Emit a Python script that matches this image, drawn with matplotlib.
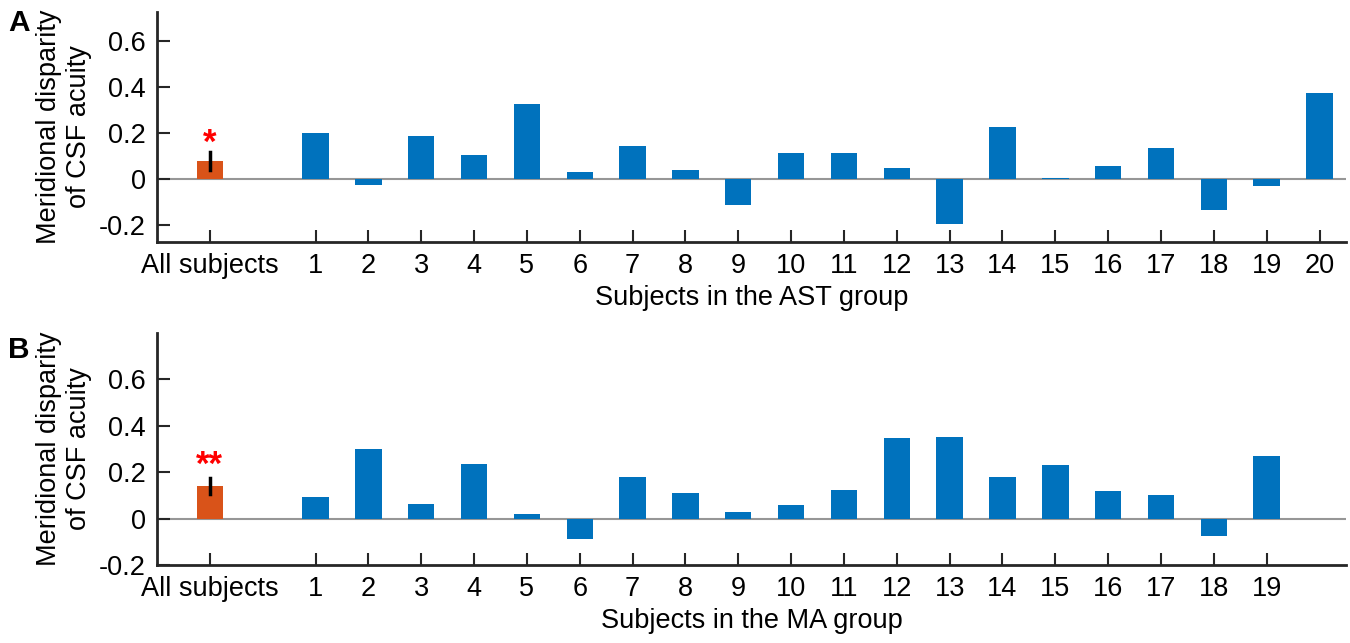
import numpy as np
import matplotlib
matplotlib.use("Agg")
import matplotlib.pyplot as plt

plt.rcParams['font.family'] = ['Liberation Sans', 'DejaVu Sans']

# panel A: AST group
ast_all = 0.078
ast_all_err = 0.038
ast_star_y = 0.170
ast_vals = [0.198, -0.025, 0.187, 0.104, 0.326, 0.030, 0.142, 0.037, -0.114, 0.110,
            0.110, 0.046, -0.198, 0.225, 0.003, 0.056, 0.133, -0.135, -0.032, 0.374]

# panel B: MA group
ma_all = 0.141
ma_all_err = 0.033
ma_star_y = 0.246
ma_vals = [0.094, 0.298, 0.062, 0.235, 0.019, -0.089, 0.180, 0.109, 0.030, 0.059,
           0.125, 0.347, 0.351, 0.178, 0.230, 0.118, 0.102, -0.075, 0.270]

blue = '#0072BD'
orange = '#D95319'
fs = 19.5

fig = plt.figure(figsize=(13.5, 6.43), dpi=100)
axA = fig.add_axes([0.1163, 0.6236, 0.8807, 0.3577])
axB = fig.add_axes([0.1163, 0.1213, 0.8807, 0.3608])

def draw(ax, all_val, all_err, star_y, vals, stars, xlabel, ylim, yticks):
    n = len(vals)
    xs = np.arange(1, n + 1)
    ax.axhline(0, color='#969696', lw=1.5, zorder=1)
    ax.bar(xs, vals, width=0.5, color=blue, zorder=2)
    ax.bar([-1], [all_val], width=0.5, color=orange, zorder=2)
    ax.plot([-1, -1], [all_val - all_err, all_val + all_err], color='black', lw=2.5, zorder=3)
    ax.text(-1, star_y, stars, color='red', ha='center', va='center_baseline',
            fontsize=25, fontweight='bold')
    ax.set_xlim(-2, 20.5)
    ax.set_ylim(*ylim)
    ax.set_yticks(yticks)
    ax.set_yticklabels(['%g' % t for t in yticks])
    ax.set_xticks([-1] + list(xs))
    ax.set_xticklabels(['All subjects'] + [str(i) for i in xs])
    for s in ['top', 'right']:
        ax.spines[s].set_visible(False)
    for s in ['left', 'bottom']:
        ax.spines[s].set_color('#262626')
        ax.spines[s].set_linewidth(2)
    ax.tick_params(direction='in', length=9, width=1.5, color='#262626',
                   labelsize=fs, pad=8)
    ax.set_xlabel(xlabel, fontsize=fs, labelpad=4)
    ax.set_ylabel('Meridional disparity\nof CSF acuity', fontsize=fs, labelpad=5,
                  linespacing=1.2)

draw(axA, ast_all, ast_all_err, ast_star_y, ast_vals, '*', 'Subjects in the AST group',
     (-0.275, 0.725), [-0.2, 0, 0.2, 0.4, 0.6])
draw(axB, ma_all, ma_all_err, ma_star_y, ma_vals, '**', 'Subjects in the MA group',
     (-0.2, 0.8), [-0.2, 0, 0.2, 0.4, 0.6])

fig.text(0.006, 0.965, 'A', fontsize=fs + 2, fontweight='bold', va='center')
fig.text(0.006, 0.455, 'B', fontsize=fs + 2, fontweight='bold', va='center')

fig.savefig('out.png', dpi=100)
